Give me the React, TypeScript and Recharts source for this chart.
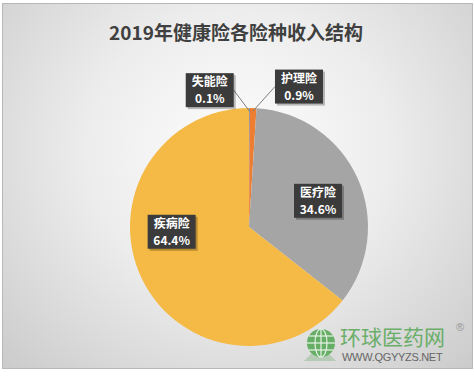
import { PieChart, Pie, Cell } from 'recharts';

const TITLE = '2019年健康险各险种收入结构';
const categories = ['失能险', '护理险', '医疗险', '疾病险'];
const shares = [0.1, 0.9, 34.6, 64.4];
const colors = ['#4472C4', '#ED7D31', '#A5A5A5', '#F5BA45'];

const data = categories.map((name, i) => ({ name, value: shares[i] }));

// label box centre, in units of the pie radius from its centre (Excel "best fit" look)
const labelLayout: Record<string, { dx: number; dy: number; leader?: 'left' | 'right' }> = {
  失能险: { dx: -0.33, dy: -1.15, leader: 'right' },
  护理险: { dx: 0.42, dy: -1.18, leader: 'left' },
  医疗险: { dx: 0.58, dy: -0.22 },
  疾病险: { dx: -0.65, dy: 0.04 },
};

const RAD = Math.PI / 180;
const BOX_W = 48;
const BOX_H = 34;
const FONT = '"Noto Sans CJK SC", "Noto Sans", sans-serif';

function renderLabel(props: any) {
  const { cx, cy, midAngle, outerRadius, name, value } = props;
  const lay = labelLayout[name];
  if (!lay) return null;
  const bx = cx + lay.dx * outerRadius;
  const by = cy + lay.dy * outerRadius;
  let line = null;
  if (lay.leader) {
    const r = outerRadius - 3;
    const ex = cx + r * Math.cos(-midAngle * RAD);
    const ey = cy + r * Math.sin(-midAngle * RAD);
    const sx = lay.leader === 'right' ? bx + BOX_W / 2 : bx - BOX_W / 2;
    line = <line x1={sx} y1={by} x2={ex} y2={ey} stroke="#7f7f7f" strokeWidth={1} />;
  }
  return (
    <g>
      {line}
      <rect
        x={bx - BOX_W / 2 + 2}
        y={by - BOX_H / 2 + 2}
        width={BOX_W}
        height={BOX_H}
        fill="#000"
        opacity={0.25}
      />
      <rect x={bx - BOX_W / 2} y={by - BOX_H / 2} width={BOX_W} height={BOX_H} fill="#3b3b3b" />
      <text x={bx} y={by - 4} textAnchor="middle" fill="#fff" fontSize={12} fontWeight="bold" fontFamily={FONT}>
        {name}
      </text>
      <text x={bx} y={by + 13} textAnchor="middle" fill="#fff" fontSize={12} fontWeight="bold" fontFamily={FONT}>
        {value.toFixed(1)}%
      </text>
    </g>
  );
}

export default function App() {
  return (
    <div style={{ position: 'absolute', left: 0, top: 0, width: 474, height: 377, background: '#fff' }}>
      <div
        style={{
          position: 'absolute',
          left: 2,
          top: 3,
          width: 469,
          height: 364,
          border: '1px solid #b8b8b8',
          background: 'radial-gradient(ellipse at 50% 40%, #fdfdfd 0%, #ededed 45%, #cbcbcb 100%)',
        }}
      />
      <div style={{ position: 'absolute', left: 0, top: 0 }}>
        <PieChart width={474} height={377}>
          <text
            x={236}
            y={40}
            textAnchor="middle"
            fontSize={19}
            fontWeight="bold"
            fill="#404040"
            fontFamily={FONT}
          >
            {TITLE}
          </text>
          <Pie
            data={data}
            dataKey="value"
            nameKey="name"
            cx={244}
            cy={222}
            outerRadius={119}
            startAngle={90}
            endAngle={-270}
            stroke="none"
            label={renderLabel}
            labelLine={false}
            isAnimationActive={false}
          >
            {data.map((d, i) => (
              <Cell key={d.name} fill={colors[i]} />
            ))}
          </Pie>
        </PieChart>
      </div>
      {/* watermark */}
      <svg style={{ position: 'absolute', left: 300, top: 325 }} width={40} height={40}>
        <path d="M4 36 L20 20 L36 36 Z" fill="#9bbf9b" opacity={0.6} />
        <circle cx={21} cy={18} r={14} fill="#66ad66" />
        <g stroke="#e8f3e8" strokeWidth={1.2} fill="none">
          <ellipse cx={21} cy={18} rx={6} ry={14} />
          <line x1={7} y1={18} x2={35} y2={18} />
          <line x1={9} y1={11} x2={33} y2={11} />
          <line x1={9} y1={25} x2={33} y2={25} />
          <line x1={21} y1={4} x2={21} y2={32} />
        </g>
      </svg>
      <div
        style={{
          position: 'absolute',
          left: 340,
          top: 326,
          fontFamily: FONT,
          fontSize: 21,
          lineHeight: '21px',
          color: '#6aae6a',
        }}
      >
        环球医药网
      </div>
      <div
        style={{
          position: 'absolute',
          left: 342,
          top: 352,
          fontFamily: '"Liberation Sans", Arial, sans-serif',
          fontSize: 11,
          lineHeight: '11px',
          color: '#666',
          letterSpacing: -0.3,
        }}
      >
        WWW.QGYYZS.NET
      </div>
      <div
        style={{
          position: 'absolute',
          left: 456,
          top: 321,
          fontFamily: '"Liberation Sans", Arial, sans-serif',
          fontSize: 11,
          color: '#999',
        }}
      >
        ®
      </div>
    </div>
  );
}
